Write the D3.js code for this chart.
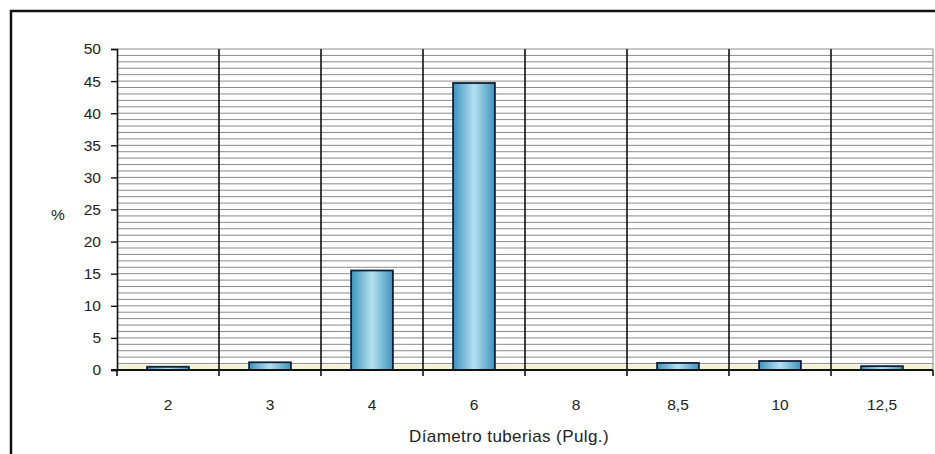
<!DOCTYPE html>
<html>
<head>
<meta charset="utf-8">
<script src="https://cdn.jsdelivr.net/npm/d3@7"></script>
<style>
  body { margin: 0; background: #fff; }
  text { font-family: "Liberation Sans", Arial, sans-serif; fill: #222; }
</style>
</head>
<body>
<div class="chart"></div>
<script>
const categories = ['2', '3', '4', '6', '8', '8,5', '10', '12,5']
const values = [0.5, 1.2, 15.5, 44.7, 0, 1.1, 1.4, 0.6]
const yTicks = [0, 5, 10, 15, 20, 25, 30, 35, 40, 45, 50]

const W = 935, H = 454
const margin = { top: 49, right: 2, bottom: 84, left: 117 }
const width = W - margin.left - margin.right
const height = H - margin.top - margin.bottom

const svg = d3.select('.chart').append('svg')
  .attr('width', W)
  .attr('height', H)

// outer frame (only top and left are visible in the scan)
svg.append('path')
  .attr('d', `M11,${H} L11,11 L${W},11`)
  .attr('fill', 'none')
  .attr('stroke', '#111')
  .attr('stroke-width', 2.5)

const g = svg.append('g')
  .attr('transform', `translate(${margin.left},${margin.top})`)

const x = d3.scaleBand()
  .domain(categories)
  .range([0, width])
  .paddingInner(0.59)
  .paddingOuter(0.295)

const xb = d3.scaleBand().domain(categories).range([0, width])

const y = d3.scaleLinear()
  .domain([0, 50])
  .range([height, 0])

const defs = svg.append('defs')
const grad = defs.append('linearGradient')
  .attr('id', 'barGrad')
  .attr('x1', '0%').attr('x2', '100%')
grad.append('stop').attr('offset', '0%').attr('stop-color', '#3f93bd')
grad.append('stop').attr('offset', '50%').attr('stop-color', '#b4e0f0')
grad.append('stop').attr('offset', '100%').attr('stop-color', '#3f93bd')

// light yellow floor strip
g.append('rect')
  .attr('x', 0)
  .attr('y', y(0.8))
  .attr('width', width)
  .attr('height', y(0) - y(0.8))
  .attr('fill', '#f3f3d2')

// horizontal grid every 1 unit
g.append('g')
  .selectAll('line')
  .data(d3.range(1, 51))
  .enter()
  .append('line')
  .attr('x1', 0)
  .attr('x2', width)
  .attr('y1', d => y(d))
  .attr('y2', d => y(d))
  .attr('stroke', '#8a8a8a')
  .attr('stroke-width', 1)

// right plot edge
g.append('line')
  .attr('x1', width).attr('x2', width)
  .attr('y1', 0).attr('y2', height)
  .attr('stroke', '#888')

// vertical category separators
g.append('g')
  .selectAll('line')
  .data(categories.slice(1))
  .enter()
  .append('line')
  .attr('x1', d => xb(d))
  .attr('x2', d => xb(d))
  .attr('y1', 0)
  .attr('y2', height + 6)
  .attr('stroke', '#111')
  .attr('stroke-width', 1.6)

// bars
g.selectAll('.bar')
  .data(values)
  .enter()
  .filter(d => d > 0)
  .append('rect')
  .attr('class', 'bar')
  .attr('x', (d, i) => x(categories[values.indexOf(d)]))
  .attr('y', d => y(d))
  .attr('width', x.bandwidth())
  .attr('height', d => y(0) - y(d))
  .attr('fill', 'url(#barGrad)')
  .attr('stroke', '#0e1f3a')
  .attr('stroke-width', 1.8)

// y axis
const yAxis = d3.axisLeft(y)
  .tickValues(yTicks)
  .tickSize(6)
  .tickPadding(10)
const ya = g.append('g').call(yAxis)
ya.select('.domain').attr('stroke', '#111').attr('stroke-width', 1.6)
ya.selectAll('.tick line').attr('stroke', '#111').attr('stroke-width', 1.4)
ya.selectAll('.tick text').attr('font-size', 15.5).style('fill', '#222')

// x axis line + ticks at category boundaries
g.append('line')
  .attr('x1', -6).attr('x2', width)
  .attr('y1', height).attr('y2', height)
  .attr('stroke', '#111').attr('stroke-width', 1.8)
g.append('g')
  .selectAll('line')
  .data([0, width])
  .enter()
  .append('line')
  .attr('x1', d => d).attr('x2', d => d)
  .attr('y1', height).attr('y2', height + 6)
  .attr('stroke', '#111').attr('stroke-width', 1.6)

g.append('g')
  .selectAll('text')
  .data(categories)
  .enter()
  .append('text')
  .attr('x', d => xb(d) + xb.bandwidth() / 2)
  .attr('y', height + 40)
  .attr('text-anchor', 'middle')
  .attr('font-size', 15.5)
  .text(d => d)

// axis titles
svg.append('text')
  .attr('x', 509)
  .attr('y', 442)
  .attr('text-anchor', 'middle')
  .attr('font-size', 17)
  .attr('letter-spacing', 0.4)
  .text('Díametro tuberias (Pulg.)')

svg.append('text')
  .attr('x', 58)
  .attr('y', 220)
  .attr('text-anchor', 'middle')
  .attr('font-size', 15.5)
  .text('%')
</script>
</body>
</html>
